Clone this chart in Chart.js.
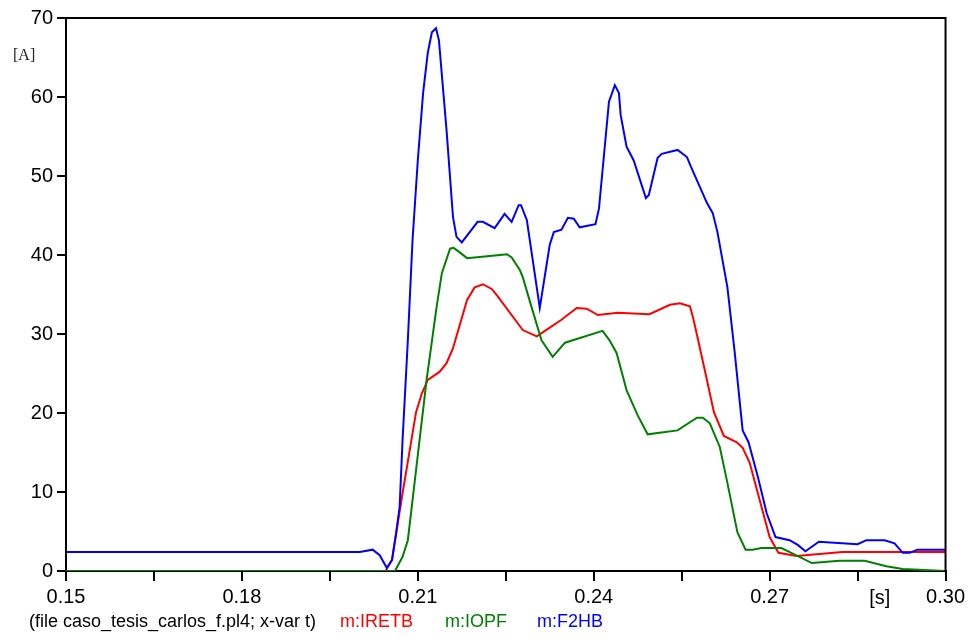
<!DOCTYPE html>
<html><head><meta charset="utf-8">
<script src="https://cdn.jsdelivr.net/npm/chart.js@4/dist/chart.umd.min.js"></script>
<style>html,body{margin:0;padding:0;background:#fff}#wrap{width:969px;height:639px;position:relative}</style>
</head><body><div id="wrap"><canvas id="c" width="969" height="639"></canvas></div>
<script>
// time in seconds, current in A
const tBlue=[0.150,0.2001,0.2023,0.2035,0.2047,0.2056,0.2063,0.2069,0.2074,0.2083,0.2091,0.2100,0.2109,0.2117,0.2124,0.2131,0.2136,0.2149,0.2160,0.2166,0.2175,0.2202,0.2211,0.2231,0.2248,0.2260,0.2272,0.2276,0.2286,0.2308,0.2325,0.2332,0.2345,0.2356,0.2366,0.2376,0.2403,0.2409,0.2426,0.2436,0.2443,0.2446,0.2456,0.2468,0.2489,0.2494,0.2509,0.2516,0.2543,0.2559,0.2565,0.2593,0.2603,0.2611,0.2628,0.2640,0.2654,0.2664,0.2680,0.2695,0.2710,0.2734,0.2748,0.2761,0.2784,0.2850,0.2865,0.2896,0.2913,0.2927,0.2939,0.2952,0.300];
const vBlue=[2.4,2.4,2.7,2.0,0.4,1.4,4.8,8.1,16.6,29.2,41.9,52.0,60.5,65.6,68.2,68.7,67.2,55.8,44.8,42.3,41.6,44.2,44.2,43.4,45.2,44.2,46.3,46.3,44.4,33.3,41.3,42.9,43.2,44.7,44.6,43.5,43.9,45.9,59.4,61.5,60.5,57.7,53.7,52.0,47.2,47.6,52.3,52.8,53.3,52.4,51.3,46.6,45.3,42.9,35.9,28.0,17.8,16.3,11.9,7.3,4.3,3.9,3.3,2.5,3.7,3.4,3.9,3.9,3.5,2.3,2.3,2.7,2.7];
const tRed=[0.150,0.2045,0.2056,0.2064,0.2073,0.2097,0.2107,0.2117,0.2137,0.2149,0.2160,0.2184,0.2197,0.2211,0.2226,0.2235,0.2279,0.2303,0.2325,0.2345,0.2371,0.2388,0.2407,0.2441,0.2495,0.2530,0.2547,0.2564,0.2569,0.2577,0.2593,0.2605,0.2622,0.2644,0.2654,0.2666,0.2683,0.2700,0.2715,0.2746,0.2824,0.300];
const vRed=[0,0,1.4,5.2,9.4,20.1,22.5,24.2,25.2,26.3,28.2,34.3,35.9,36.3,35.7,34.9,30.5,29.7,30.8,31.8,33.3,33.2,32.4,32.7,32.5,33.7,33.9,33.5,32.2,29.6,24.2,20.1,17.1,16.3,15.6,13.7,9.0,4.3,2.3,1.9,2.4,2.4];
const tGreen=[0.150,0.2061,0.2074,0.2083,0.2095,0.2115,0.2132,0.2141,0.2155,0.2161,0.2172,0.2184,0.2240,0.2252,0.2260,0.2274,0.2279,0.2294,0.2311,0.2330,0.2351,0.2415,0.2427,0.2439,0.2456,0.2475,0.2492,0.2543,0.2576,0.2586,0.2598,0.2615,0.2627,0.2645,0.2659,0.2671,0.2686,0.2720,0.2737,0.2772,0.2819,0.2862,0.2899,0.2927,0.300];
const vGreen=[0,0,1.8,3.9,11.5,24.2,33.4,37.7,40.8,40.9,40.3,39.6,40.0,40.1,39.7,38.1,37.2,33.4,29.2,27.1,28.9,30.4,29.2,27.6,22.9,19.7,17.3,17.8,19.4,19.4,18.7,15.7,11.5,4.9,2.7,2.7,2.9,2.9,2.3,1.0,1.3,1.3,0.6,0.25,0];
const seriesNames=['m:IRETB','m:IOPF','m:F2HB'];
const seriesColors=['#ff0000','#008000','#0000ff'];

const pts=(t,v)=>t.map((x,i)=>({x:x,y:v[i]}));

const deco={
  id:'deco',
  afterDraw(chart){
    const ctx=chart.ctx, a=chart.chartArea, xs=chart.scales.x;
    ctx.save();
    ctx.strokeStyle='#000'; ctx.lineWidth=2;
    ctx.beginPath();
    ctx.moveTo(a.left,a.top); ctx.lineTo(a.right,a.top); ctx.lineTo(a.right,a.bottom);
    ctx.stroke();
    ctx.fillStyle='#222';
    ctx.font='16px "Liberation Serif"';
    ctx.textBaseline='middle'; ctx.textAlign='left';
    ctx.fillText('[A]',13,56);
    ctx.font='20px "Liberation Sans"';
    ctx.fillStyle='#000'; ctx.textAlign='center';
    ctx.fillText('[s]',xs.getPixelForValue(0.2888),598);
    ctx.font='18px "Liberation Sans"';
    ctx.textAlign='left';
    ctx.fillStyle='#000';
    ctx.fillText('(file caso_tesis_carlos_f.pl4; x-var t)',29,622);
    const lx=[340,445,537];
    seriesNames.forEach((n,i)=>{ctx.fillStyle=seriesColors[i];ctx.fillText(n,lx[i],622);});
    ctx.restore();
  }
};

new Chart(document.getElementById('c'),{
  type:'line',
  data:{datasets:[
    {label:seriesNames[2],data:pts(tBlue,vBlue),borderColor:seriesColors[2],borderWidth:2,pointRadius:0,tension:0,fill:false},
    {label:seriesNames[1],data:pts(tGreen,vGreen),borderColor:seriesColors[1],borderWidth:2,pointRadius:0,tension:0,fill:false},
    {label:seriesNames[0],data:pts(tRed,vRed),borderColor:seriesColors[0],borderWidth:2,pointRadius:0,tension:0,fill:false}
  ]},
  options:{
    responsive:false,animation:false,devicePixelRatio:1,
    layout:{padding:{left:0,right:23,top:18,bottom:0}},
    plugins:{legend:{display:false},tooltip:{enabled:false}},
    scales:{
      x:{type:'linear',min:0.15,max:0.30,
        afterFit(s){s.height=68;},
        border:{display:true,color:'#000',width:2},
        grid:{drawOnChartArea:false,drawTicks:true,color:'#000',lineWidth:2,tickLength:10},
        ticks:{stepSize:0.015,autoSkip:false,maxRotation:0,padding:4,color:'#000',font:{family:'Liberation Sans',size:20},
          callback(v){const m=Math.round(v*1000);return (m%30===0)?(m/1000).toFixed(2):'';}}
      },
      y:{type:'linear',min:0,max:70,
        afterFit(s){s.width=66;},
        border:{display:true,color:'#000',width:2},
        grid:{drawOnChartArea:false,drawTicks:true,color:'#000',lineWidth:2,tickLength:9},
        ticks:{stepSize:10,padding:4,color:'#000',font:{family:'Liberation Sans',size:20}}
      }
    }
  },
  plugins:[deco]
});
</script>
</body></html>
